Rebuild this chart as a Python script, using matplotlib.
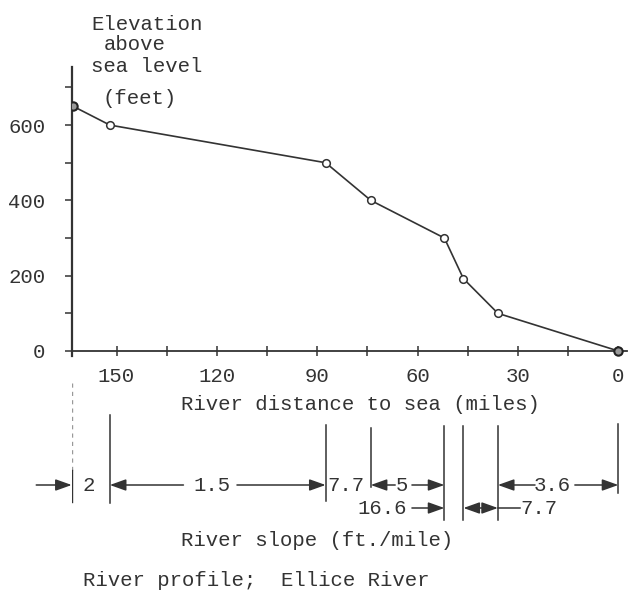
import matplotlib
matplotlib.use("Agg")
import matplotlib.pyplot as plt

# River profile, Ellice River
river_miles = [163.0, 152.0, 87.5, 74.0, 52.0, 46.3, 36.0, 0.0]
elevation_ft = [650, 600, 500, 400, 300, 192, 100, 0]
slope_labels = ["2", "1.5", "7.7", "5", "16.6", "7.7", "3.6"]
x_major = [150, 120, 90, 60, 30, 0]
x_minor = [135, 105, 75, 45, 15]
y_major = [0, 200, 400, 600]
y_minor = [100, 300, 500, 700]

ink = "#333333"
fs = 14.9
plt.rcParams["font.family"] = ["Liberation Mono", "DejaVu Sans Mono"]
plt.rcParams["font.size"] = fs

W, H = 631, 591
fig = plt.figure(figsize=(W / 100, H / 100), dpi=100)

def fx(px):
    return px / W

def fy(py):
    return 1 - py / H

# main profile axes (axis at x=163.4 mi, 0 ft at y=351 px)
left, right = 71.7, 626.7
ax = fig.add_axes([fx(left), fy(355.5), fx(right - left), fy(66.7) - fy(355.5)])
ax.plot(river_miles, elevation_ft, color=ink, lw=1.2, marker="o", ms=5.5,
        mfc="white", mec=ink, mew=1.1, zorder=3)
ax.plot([river_miles[0], river_miles[-1]], [elevation_ft[0], elevation_ft[-1]],
        ls="none", marker="o", ms=6, mfc="#999999", mec="#222222", mew=1.5, zorder=4)
ax.set_xlim(163.4, -2.5)
ax.set_ylim(-12, 755)
ax.spines["top"].set_visible(False)
ax.spines["right"].set_visible(False)
ax.spines["bottom"].set_position(("data", 0))
ax.spines["left"].set_color(ink)
ax.spines["bottom"].set_color(ink)
ax.spines["left"].set_linewidth(1.6)
ax.spines["bottom"].set_linewidth(1.3)
ax.set_xticks(x_major)
ax.set_xticks(x_minor, minor=True)
ax.set_yticks(y_major)
ax.set_yticks(y_minor, minor=True)
ax.tick_params(axis="x", which="both", direction="inout", length=7, width=1.1,
               colors=ink, pad=8, labelsize=fs)
ax.tick_params(axis="y", which="both", direction="out", length=5, width=1.1,
               colors=ink, pad=14, labelsize=fs)
ax.set_facecolor("none")

# slope diagram below, x in miles, y in image pixels
ax2 = fig.add_axes([fx(left), fy(560), fx(right - left), fy(370) - fy(560)])
ax2.set_xlim(ax.get_xlim())
ax2.set_ylim(560, 370)
ax2.axis("off")

b = river_miles[:]
b[0] = 163.4
tops = [383, 415, 425, 428, 426, 426, 426, 424]
bottoms = [502, 503, 501, 487, 520, 520, 520, 493]
for i, m in enumerate(b):
    if i == 0:
        ax2.plot([m, m], [tops[i], 470], color="#999999", lw=1, ls=(0, (3, 3)))
        ax2.plot([m, m], [470, bottoms[i]], color=ink, lw=1)
    else:
        ax2.plot([m, m], [tops[i], bottoms[i]], color=ink, lw=1.1)

r1, r2 = 485, 508
arw = dict(arrowstyle="-|>,head_length=0.7,head_width=0.25", color=ink, lw=1.1,
           mutation_scale=14, shrinkA=0, shrinkB=0)
dbl = dict(arrowstyle="<|-|>,head_length=0.7,head_width=0.25", color=ink, lw=1.1,
           mutation_scale=14, shrinkA=0, shrinkB=0)

def arrow(x0, x1, y, props=arw):
    ax2.annotate("", xy=(x1, y), xytext=(x0, y), arrowprops=props)

def label(x, y, s):
    ax2.text(x, y, s, ha="center", va="center", color=ink, fontsize=fs)

# segment 0: "2"
arrow(174, b[0], r1)
label(158.3, r1, slope_labels[0])
# segment 1: "1.5"
label(121.4, r1, slope_labels[1])
arrow(130, b[1], r1)
arrow(114, b[2], r1)
# segment 2: "7.7"
label(81.3, r1, slope_labels[2])
# segment 3: "5"
label(64.7, r1, slope_labels[3])
arrow(66.7, b[3], r1)
arrow(61.7, b[4], r1)
# segment 4: "16.6"
label(70.6, r2, slope_labels[4])
arrow(61.7, b[4], r2)
# segment 5: "7.7"
arrow(b[5], b[6], r2, dbl)
ax2.plot([b[6], 29.4], [r2, r2], color=ink, lw=1.1)
label(23.6, r2, slope_labels[5])
# segment 6: "3.6"
label(19.9, r1, slope_labels[6])
arrow(24.9, b[6], r1)
arrow(13.0, b[7], r1)

# texts
def ftext(x, y, s):
    fig.text(fx(x), fy(y), s, ha="center", va="center", color=ink, fontsize=fs)

ftext(147, 24, "Elevation")
ftext(135, 45, "above")
ftext(147, 66, "sea level")
ftext(140, 98, "(feet)")
ftext(360, 405, "River distance to sea (miles)")
ftext(317, 540, "River slope (ft./mile)")
ftext(256, 581, "River profile;  Ellice River")

fig.savefig("out.png", dpi=100, facecolor="white")
